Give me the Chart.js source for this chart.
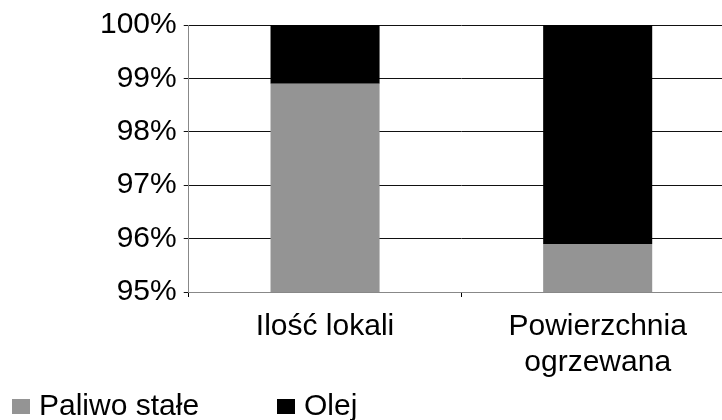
<!DOCTYPE html>
<html>
<head>
<meta charset="utf-8">
<script src="https://cdn.jsdelivr.net/npm/chart.js@4"></script>
<style>
  html, body { margin: 0; padding: 0; background: #fff; overflow: hidden; }
  #wrap { position: relative; width: 740px; height: 420px; }
  #legend { position: absolute; left: 12px; top: 388px; font-family: "Liberation Sans", Arial, sans-serif; font-size: 30px; color: #000; }
  .item { position: absolute; top: 0; white-space: nowrap; line-height: 34px; }
  .box { display: inline-block; width: 18px; height: 15px; margin-right: 9px; vertical-align: 1px; }
</style>
</head>
<body>
<div id="wrap">
  <canvas id="chart" width="740" height="420"></canvas>
  <div id="legend"></div>
</div>
<script>
// values (percent share)
var categories = [["Ilość lokali"], ["Powierzchnia", "ogrzewana"]];
var seriesNames = ["Paliwo stałe", "Olej"];
var paliwoStale = [98.9, 95.9];
var olej = [1.1, 4.1];
var yTicks = [95, 96, 97, 98, 99, 100];

var colors = ["#949494", "#000000"];
var font = { family: "'Liberation Sans', Arial, sans-serif", size: 30 };

var ctx = document.getElementById("chart").getContext("2d");

var chart = new Chart(ctx, {
  type: "bar",
  data: {
    labels: categories,
    datasets: [
      { label: seriesNames[0], data: paliwoStale, backgroundColor: colors[0] },
      { label: seriesNames[1], data: olej, backgroundColor: colors[1] }
    ]
  },
  options: {
    responsive: false,
    animation: false,
    layout: { padding: { left: 93, top: 7, right: 6, bottom: 27 } },
    datasets: {
      bar: { barPercentage: 0.4, categoryPercentage: 1 }
    },
    plugins: {
      legend: { display: false },
      tooltip: { enabled: false }
    },
    scales: {
      x: {
        stacked: true,
        grid: { drawOnChartArea: false, drawTicks: true, tickLength: 5, color: "#000" },
        border: { color: "#888" },
        ticks: { color: "#000", font: { family: font.family, size: 30, lineHeight: 1.2 }, padding: 12, maxRotation: 0 }
      },
      y: {
        stacked: true,
        min: yTicks[0],
        max: yTicks[yTicks.length - 1],
        afterBuildTicks: function(axis) {
          axis.ticks = yTicks.map(function(v) { return { value: v }; });
        },
        grid: { color: "#111", tickLength: 5 },
        border: { color: "#888" },
        ticks: {
          color: "#000",
          font: font,
          padding: 7,
          callback: function(v) { return v + "%"; }
        }
      }
    }
  }
});

// legend below the chart, built from the datasets
var legend = document.getElementById("legend");
var xs = [0, 265];
chart.data.datasets.forEach(function(ds, i) {
  var item = document.createElement("span");
  item.className = "item";
  item.style.left = xs[i] + "px";
  var box = document.createElement("span");
  box.className = "box";
  box.style.background = ds.backgroundColor;
  item.appendChild(box);
  item.appendChild(document.createTextNode(ds.label));
  legend.appendChild(item);
});
</script>
</body>
</html>
